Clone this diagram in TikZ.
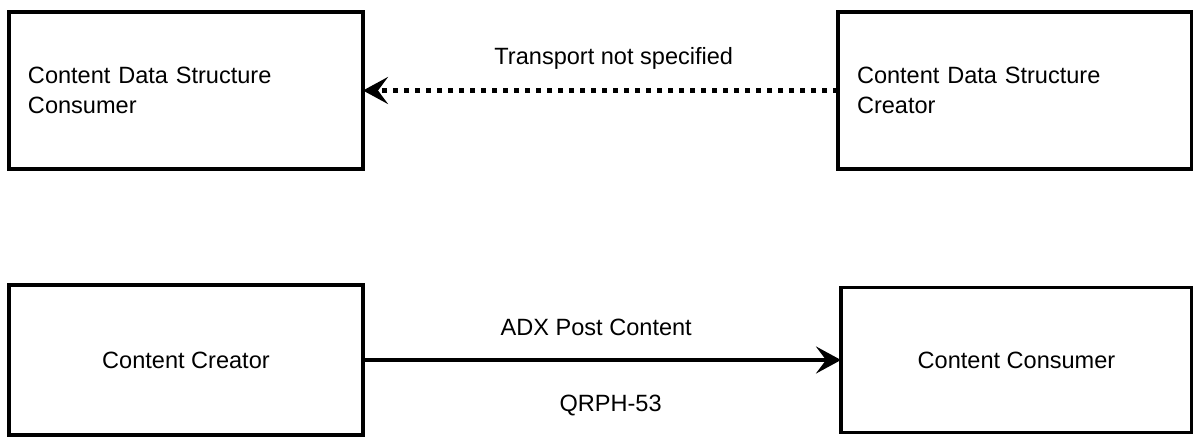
\documentclass[tikz,border=0pt]{standalone}
\usepackage{fontspec}
\setmainfont{Liberation Sans}
\usepackage{tikz}
\usetikzlibrary{positioning, arrows.meta}

\begin{document}
\begin{tikzpicture}[node distance = 2 cm,
        box/.style={draw, line width=2pt, outer sep=0pt, minimum width=7.08cm, font=\fontsize{13.4}{17}\selectfont},
        lbl/.style={inner sep=0pt, font=\fontsize{13.4}{17}\selectfont},
        tip/.style={-{Stealth[length=0.5cm, width=0.54cm, inset=0.2cm]}, line width=2pt}]
        \useasboundingbox (0,0) rectangle (23.86,-8.74);

        \node[box,minimum height=3.14cm,text width=6.32cm,align=left,inner xsep=0.38cm] (dsconsumer) at (3.72,-1.81) {Content Data Structure\\Consumer};
        \node[box,minimum height=3.14cm,text width=6.32cm,align=left,inner xsep=0.38cm] (dscreator) [right = 9.5 cm of dsconsumer] {Content Data Structure\\Creator};

        \node[box,minimum height=3.0cm] (creator) [below = 2.32 cm of dsconsumer] {Content Creator};
        \node[box,minimum height=2.9cm,minimum width=7.02cm] (consumer) [right = 9.56 cm of creator] {Content Consumer};

        \draw[tip,line width=2.5pt,dash pattern=on 0.1cm off 0.12cm] (dscreator) -- node[lbl,pos=0.472,yshift=0.64cm] {Transport not specified} (dsconsumer);

        \draw[tip] (creator) -- node[lbl,pos=0.488,yshift=0.66cm] {ADX Post Content}
                node[lbl,pos=0.518,yshift=-0.9cm] {QRPH-53} (consumer);

    \end{tikzpicture}
\end{document}
